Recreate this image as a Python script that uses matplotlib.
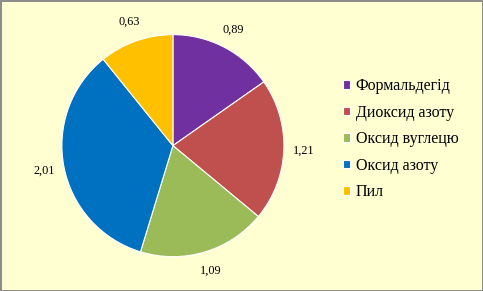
import matplotlib.pyplot as plt

labels = ['Формальдегід', 'Диоксид азоту', 'Оксид вуглецю', 'Оксид азоту', 'Пил']
values = [0.89, 1.21, 1.09, 2.01, 0.63]
colors = ['#7030A0', '#C0504D', '#9BBB59', '#0070C0', '#FFC000']

plt.rcParams['font.family'] = ['Liberation Serif', 'DejaVu Serif']

fig = plt.figure(figsize=(4.83, 2.91), dpi=100)
fig.patch.set_facecolor('#FFFFD2')
fig.patch.set_edgecolor('#8C8C8C')
fig.patch.set_linewidth(2)

ax = fig.add_axes([0.128, 0.118, 0.46, 0.763])
ax.set_facecolor('none')

total = sum(values)


def fmt(p):
    # turn the percentage back into the value, with a decimal comma
    return f'{p * total / 100:.2f}'.replace('.', ',')


wedges, texts, autotexts = ax.pie(values, colors=colors, startangle=90, counterclock=False,
                                  autopct=fmt, pctdistance=1.18,
                                  wedgeprops=dict(edgecolor='white', linewidth=0.8),
                                  textprops=dict(fontsize=8.8, color='black'))
ax.set_xlim(-1, 1)
ax.set_ylim(-1, 1)
ax.set_aspect('equal')

fig.legend(wedges, labels, loc='center left', bbox_to_anchor=(0.68, 0.522),
           frameon=False, fontsize=11.5, handlelength=0.45, handleheight=0.45,
           handletextpad=0.35, labelspacing=0.66)

fig.savefig('out.png', dpi=100, facecolor=fig.get_facecolor(), edgecolor=fig.get_edgecolor())
